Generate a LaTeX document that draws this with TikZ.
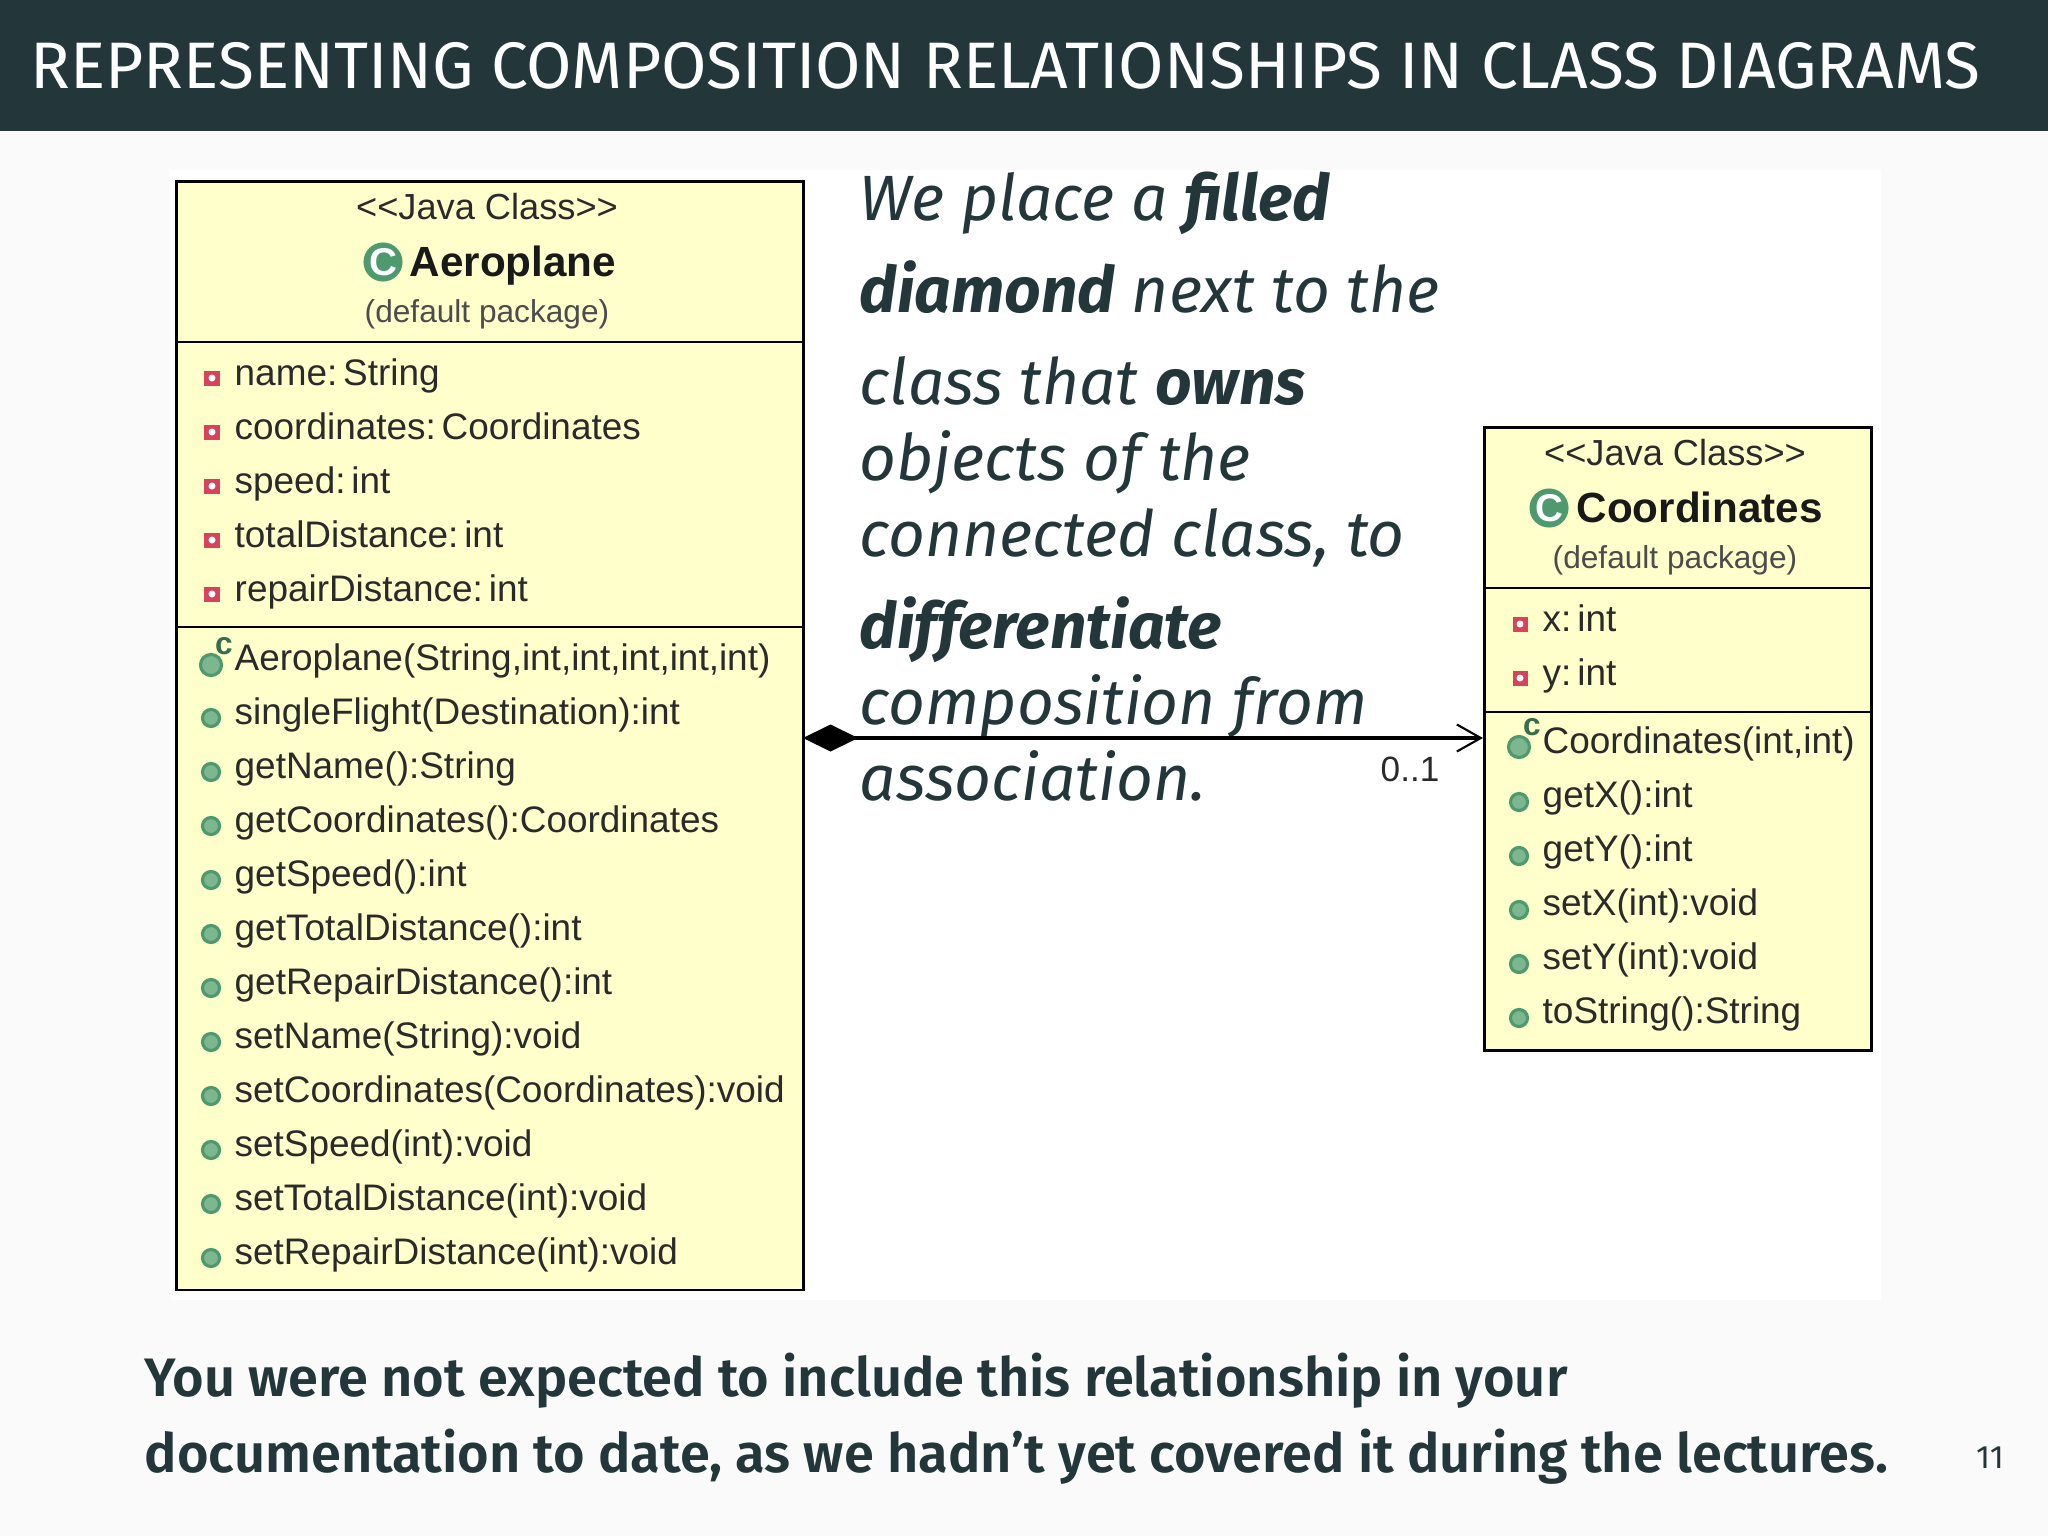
\documentclass[tikz,border=0pt]{standalone}
\usepackage{fontspec}
\setmainfont{Fira Sans}
\newfontfamily\umlfont{Liberation Sans}
\newfontfamily\semifont{Fira Sans SemiBold}
\usetikzlibrary{arrows.meta,shapes.geometric}
\definecolor{barcol}{HTML}{23373B}
\definecolor{slidebg}{HTML}{FAFAFA}
\definecolor{umlfill}{HTML}{FFFFCC}
\definecolor{umlink}{HTML}{2A2A2A}
\definecolor{icongreen}{HTML}{4E9A6E}
\definecolor{icongreenlt}{HTML}{7DB78F}
\definecolor{iconred}{HTML}{D8425A}
\tikzset{
  x=0.01cm,y=-0.01cm,
  classbox/.style={draw=black,line width=0.75pt,fill=umlfill,minimum width=#1,inner sep=0pt,anchor=north west},
  sepline/.style={draw=black,line width=0.75pt},
  row/.style={anchor=base west,inner sep=0pt,text=umlink,font=\umlfont\fontsize{10.5}{12}\selectfont},
  headline/.style={anchor=base,inner sep=0pt,text=umlink,font=\umlfont\fontsize{10.3}{12}\selectfont},
  titlename/.style={anchor=base west,inner sep=0pt,text=black!90,font=\umlfont\bfseries\fontsize{12}{14}\selectfont},
  pkgname/.style={anchor=base,inner sep=0pt,text=black!70,font=\umlfont\fontsize{9}{11}\selectfont},
  attricon/.style={fill=iconred,minimum size=0.15cm,inner sep=0pt},
  attrdot/.style={fill=white},
  methicon/.style={circle,draw=icongreen,fill=icongreenlt,line width=0.9pt,minimum size=0.17cm,inner sep=0pt},
  ctoricon/.style={circle,draw=icongreen,fill=icongreenlt,line width=0.9pt,minimum size=0.21cm,inner sep=0pt},
  ctormark/.style={anchor=center,inner sep=0pt,text=icongreen!70!black,font=\umlfont\bfseries\fontsize{9}{10}\selectfont},
  bigicon/.style={circle,fill=icongreen,minimum size=0.39cm,inner sep=0pt,text=white,font=\umlfont\bfseries\fontsize{11}{12}\selectfont},
  prose/.style={anchor=base west,inner sep=0pt,text=barcol,font=\itshape\fontsize{18.2}{20}\selectfont},
  foot/.style={anchor=base west,inner sep=0pt,text=barcol,font=\semifont\fontsize{15.4}{18}\selectfont},
  compo/.style={draw=black,line width=0.9pt,{Diamond[fill=black,length=0.55cm,width=0.27cm]}-{Straight Barb[length=0.24cm,width=0.27cm,line width=0.6pt]}},
}
\begin{document}
\begin{tikzpicture}
\useasboundingbox (0,0) rectangle (2048,1536);
\fill[slidebg] (0,0) rectangle (2048,1536);
\fill[white] (170,170) rectangle (1881,1300);
\fill[barcol] (0,0) rectangle (2048,131);
\node[anchor=base west,inner sep=0pt,text=white,font=\fontsize{18.7}{20}\selectfont] (title) at (30,88) {REPRESENTING COMPOSITION RELATIONSHIPS IN CLASS DIAGRAMS};

% Aeroplane class
\node[classbox=6.27cm,minimum height=11.08cm] (aero) at (175,180) {};
\coordinate (aeroS1) at (175,342); \coordinate (aeroS2) at (175,627);
\draw[sepline] (aeroS1) -- (aeroS1 -| aero.east);
\draw[sepline] (aeroS2) -- (aeroS2 -| aero.east);
\node[headline] (aeroStereo) at (487,219) {<{}<Java Class>{}>};
\node[titlename] (aeroName) at (409,276.5) {Aeroplane};
\node[bigicon] (aeroIcon) at (383,262) {C};
\node[pkgname] (aeroPkg) at (487,322) {(default package)};

\foreach \i/\txt in {0/{name:\hspace{0.16em}String},1/{coordinates:\hspace{0.16em}Coordinates},2/{speed:\hspace{0.16em}int},3/{totalDistance:\hspace{0.16em}int},4/{repairDistance:\hspace{0.16em}int}}{
  \node[attricon] (aa\i) at (212,{378+54*\i}) {};
  \fill[attrdot] (aa\i.center) circle (3.5);
  \node[row] (at\i) at (234,{385.5+54*\i}) {\txt};
}
\node[ctoricon] (amc) at (211,665) {};
\node[ctormark] (amcc) at (224,646) {c};
\node[row] (am0) at (234,670.5) {Aeroplane(String,int,int,int,int,int)};
\foreach \i/\txt in {1/{singleFlight(Destination):int},2/{getName():String},3/{getCoordinates():Coordinates},4/{getSpeed():int},5/{getTotalDistance():int},6/{getRepairDistance():int},7/{setName(String):void},8/{setCoordinates(Coordinates):void},9/{setSpeed(int):void},10/{setTotalDistance(int):void},11/{setRepairDistance(int):void}}{
  \node[methicon] (amd\i) at (211,{664+54*\i}) {};
  \node[row] (am\i) at (234,{670.5+54*\i}) {\txt};
}

% Coordinates class
\node[classbox=3.87cm,minimum height=6.23cm] (coord) at (1483,426) {};
\coordinate (coordS1) at (1483,588); \coordinate (coordS2) at (1483,712);
\draw[sepline] (coordS1) -- (coordS1 -| coord.east);
\draw[sepline] (coordS2) -- (coordS2 -| coord.east);
\node[headline] (coordStereo) at (1675,465) {<{}<Java Class>{}>};
\node[titlename] (coordName) at (1576,522.5) {Coordinates};
\node[bigicon] (coordIcon) at (1549,508) {C};
\node[pkgname] (coordPkg) at (1675,568) {(default package)};
\foreach \i/\txt in {0/{x:\hspace{0.16em}int},1/{y:\hspace{0.16em}int}}{
  \node[attricon] (ca\i) at (1520,{624+54*\i}) {};
  \fill[attrdot] (ca\i.center) circle (3.5);
  \node[row] (ct\i) at (1542,{631.5+54*\i}) {\txt};
}
\node[ctoricon] (cmc) at (1519,747) {};
\node[ctormark] (cmcc) at (1532,727) {c};
\node[row] (cm0) at (1542,753.5) {Coordinates(int,int)};
\foreach \i/\txt in {1/{getX():int},2/{getY():int},3/{setX(int):void},4/{setY(int):void},5/{toString():String}}{
  \node[methicon] (cmd\i) at (1519,{748+54*\i}) {};
  \node[row] (cm\i) at (1542,{753.5+54*\i}) {\txt};
}

% prose
\node[prose] (p1) at (859,220) {We place a {\bfseries filled}};
\node[prose] (p2) at (859,312) {{\bfseries diamond} next to the};
\node[prose] (p3) at (859,404) {class that {\bfseries owns}};
\node[prose] (p4) at (859,480) {objects of the};
\node[prose] (p5) at (859,556) {connected class, to};
\node[prose] (p6) at (859,648) {{\bfseries differentiate}};
\node[prose] (p7) at (859,724) {composition from};
\node[prose] (p8) at (859,800) {association.};

% connector
\coordinate (aeroPort) at (803,738);
\coordinate (coordPort) at (1483,738);
\draw[compo] (aeroPort) -- (coordPort);
\node[anchor=base west,inner sep=0pt,text=umlink,font=\umlfont\fontsize{10}{12}\selectfont] (mult) at (1380,781) {0..1};

% footer
\node[foot] (f1) at (144,1396) {You were not expected to include this relationship in your};
\node[foot] (f2) at (144,1472) {documentation to date, as we hadn’t yet covered it during the lectures.};
\node[anchor=center,inner sep=0pt,text=barcol,font=\fontsize{9.2}{11}\selectfont] (pg) at (1990,1458) {11};
\end{tikzpicture}
\end{document}
